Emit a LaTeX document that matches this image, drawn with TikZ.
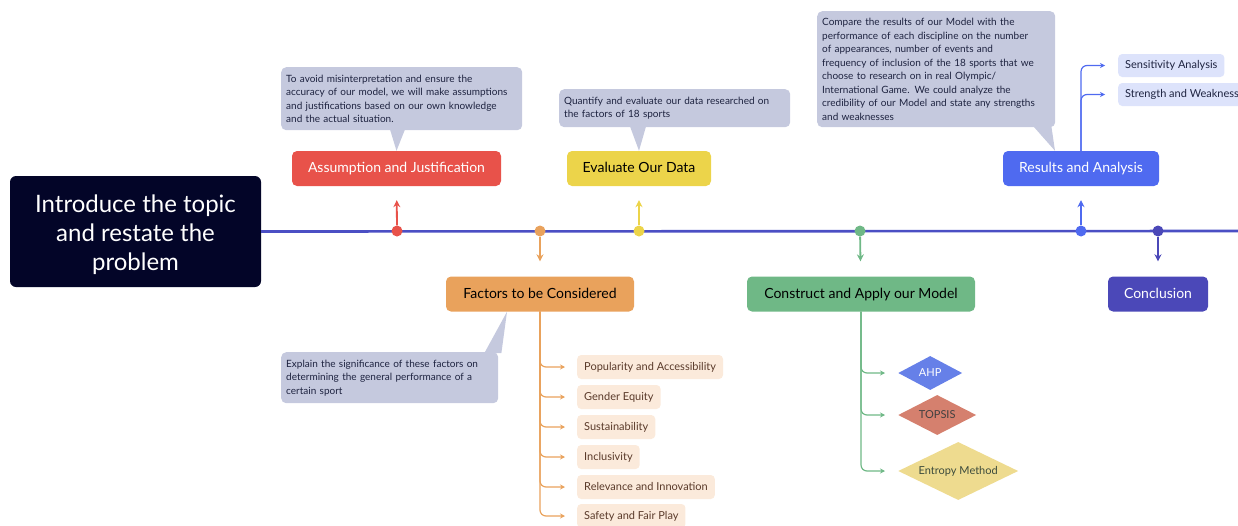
\documentclass[tikz,border=0pt]{standalone}
\usepackage{fontspec}
\setmainfont{Lato}
\usepackage{tikz}
\usetikzlibrary{shapes.geometric, arrows.meta, positioning, calc}
\definecolor{mynavy}{RGB}{3,5,40}
\definecolor{myline}{RGB}{75,79,196}
\definecolor{myred}{RGB}{232,82,74}
\definecolor{myorange}{RGB}{233,162,92}
\definecolor{myyellow}{RGB}{236,212,74}
\definecolor{mygreen}{RGB}{111,184,134}
\definecolor{myblue}{RGB}{79,106,240}
\definecolor{mypurple}{RGB}{75,72,184}
\definecolor{callbg}{RGB}{197,201,222}
\definecolor{calltext}{RGB}{30,35,64}
\definecolor{factbg}{RGB}{251,234,219}
\definecolor{facttext}{RGB}{90,58,42}
\definecolor{resbg}{RGB}{221,227,251}
\definecolor{ahpblue}{RGB}{102,128,232}
\definecolor{topsisred}{RGB}{213,128,110}
\definecolor{entropyyel}{RGB}{238,219,143}
\definecolor{entropytext}{RGB}{60,75,60}
\tikzset{
  stage/.style={rectangle, rounded corners=5pt, minimum height=35pt,
    inner sep=0pt, text height=10pt, text depth=2pt, font=\fontsize{14}{16}\selectfont},
  callout/.style={rectangle, fill=callbg, rounded corners=5pt, anchor=north west,
    align=left, inner xsep=5pt, inner ysep=4pt, text=calltext,
    font=\fontsize{10}{13.5}\selectfont},
  item/.style={rectangle, rounded corners=4pt, anchor=west, minimum height=24pt,
    inner xsep=7pt, inner ysep=0pt, text height=8pt, text depth=2pt, font=\fontsize{11}{13}\selectfont},
  method/.style={diamond, aspect=2, inner sep=0pt, anchor=west, font=\fontsize{11}{13}\selectfont},
  dot/.style={circle, minimum size=11pt, inner sep=0pt},
  stem/.style={-{Stealth[length=7pt,width=7pt]}, line width=1.8pt},
  branch/.style={-{Stealth[length=5pt,width=5pt]}, line width=1.2pt,
    rounded corners=6pt, shorten >=12pt},
  timeline/.style={line width=2.6pt, color=myline}
}

\begin{document}
\begin{tikzpicture}[x=1pt, y=-1pt]
  \useasboundingbox (0,0) rectangle (1238,525);
  % Start box and time line
  \node[rectangle, fill=mynavy, rounded corners=6pt, minimum width=251pt, minimum height=111pt,
    align=center, text=white, font=\fontsize{24}{29}\selectfont] (intro) at (135.5,231.5)
    {\rule{0pt}{24pt}Introduce the topic\\and restate the\\problem};
  \coordinate (tend) at (1238,231);
  \draw[timeline] (intro.east) -- (tend);
  % Stages
  \node[stage, fill=myred, text=white, minimum width=209pt] (assume) at (396.5,168.5) {Assumption and Justification};
  \node[stage, fill=myorange, text=black, minimum width=188pt] (fac) at (540,294) {Factors to be Considered};
  \node[stage, fill=myyellow, text=black, minimum width=144pt] (eval) at (639,168.5) {Evaluate Our Data};
  \node[stage, fill=mygreen, text=black, minimum width=228pt] (model) at (861,294) {Construct and Apply our Model};
  \node[stage, fill=myblue, text=white, minimum width=156pt] (res) at (1081,168.5) {Results and Analysis};
  \node[stage, fill=mypurple, text=white, minimum width=100pt] (concl) at (1158,294) {Conclusion};
  % Dots on the line
  \node[dot, fill=myred] (d1) at (397,231) {};
  \node[dot, fill=myorange] (d2) at (540,231) {};
  \node[dot, fill=myyellow] (d3) at (639,231) {};
  \node[dot, fill=mygreen] (d4) at (860,231) {};
  \node[dot, fill=myblue] (d5) at (1081,231) {};
  \node[dot, fill=mypurple] (d6) at (1158,231) {};
  \draw[stem, myred, shorten >=14pt] (d1) -- (assume);
  \draw[stem, myorange, shorten >=15pt] (d2) -- (fac);
  \draw[stem, myyellow, shorten >=14pt] (d3) -- (eval);
  \draw[stem, mygreen, shorten >=15pt] (d4) -- (model);
  \draw[stem, myblue, shorten >=14pt] (d5) -- (res);
  \draw[stem, mypurple, shorten >=15pt] (d6) -- (concl);
  % Callouts
  \node[callout, text width=231pt, minimum height=63pt] (c1) at (281,67)
    {To avoid misinterpretation and ensure the\\accuracy of our model, we will make assumptions\\and justifications based on our own knowledge\\and the actual situation.};
  \fill[callbg] ($(c1.south west)+(109,-1)$) -- (assume.north) -- ($(c1.south west)+(124,-1)$) -- cycle;
  \node[callout, text width=221pt, minimum height=38pt] (c2) at (559,89)
    {Quantify and evaluate our data researched on\\the factors of 18 sports};
  \fill[callbg] ($(c2.south west)+(71,-1)$) -- (eval.north) -- ($(c2.south west)+(87,-1)$) -- cycle;
  \node[callout, text width=228pt, minimum height=116pt] (c3) at (817,11)
    {Compare the results of our Model with the\\performance of each discipline on the number\\of appearances, number of events and\\frequency of inclusion of the 18 sports that we\\choose to research on in real Olympic/\\International Game. We could analyze the\\credibility of our Model and state any strengths\\and weaknesses};
  \fill[callbg] ($(c3.south east)+(-22,-1)$) -- ($(res.north)+(-26,0)$) -- ($(c3.south east)+(-4,-1)$) -- cycle;
  \node[callout, text width=207pt, minimum height=51pt] (c4) at (281,352)
    {Explain the significance of these factors on\\determining the general performance of a\\certain sport};
  \fill[callbg] ($(c4.north east)+(-14,1)$) -- ($(fac.south)+(-33,0)$) -- ($(c4.north east)+(3,1)$) -- cycle;
  % Factors
  \node[item, fill=factbg, text=facttext] (pop) at (577,367) {Popularity and Accessibility};
  \node[item, fill=factbg, text=facttext] (gen) at (577,397) {Gender Equity};
  \node[item, fill=factbg, text=facttext] (sus) at (577,427) {Sustainability};
  \node[item, fill=factbg, text=facttext] (inc) at (577,457) {Inclusivity};
  \node[item, fill=factbg, text=facttext] (rel) at (577,487) {Relevance and Innovation};
  \node[item, fill=factbg, text=facttext] (saf) at (577,516) {Safety and Fair Play};
  \foreach \n in {pop,gen,sus,inc,rel,saf}
    \draw[branch, myorange] (fac.south) |- (\n.west);
  % Methods
  \node[method, fill=ahpblue, text=white, minimum width=64pt, minimum height=34pt] (ahp) at (898,373) {AHP};
  \node[method, fill=topsisred, text=black!75, minimum width=78pt, minimum height=40pt] (topsis) at (898,415) {TOPSIS};
  \node[method, fill=entropyyel, text=entropytext, minimum width=120pt, minimum height=58pt] (entropy) at (898,471) {Entropy Method};
  \foreach \n in {ahp,topsis,entropy}
    \draw[branch, mygreen, shorten >=13pt] (model.south) |- (\n.west);
  % Results
  \node[item, fill=resbg, text=calltext, minimum height=23pt] (sens) at (1118,65.5) {Sensitivity Analysis};
  \node[item, fill=resbg, text=calltext, minimum height=23pt] (stren) at (1118,94.5) {Strength and Weakness};
  \foreach \n in {sens,stren}
    \draw[branch, myblue, shorten >=13pt] (res.north) |- (\n.west);
\end{tikzpicture}
\end{document}
